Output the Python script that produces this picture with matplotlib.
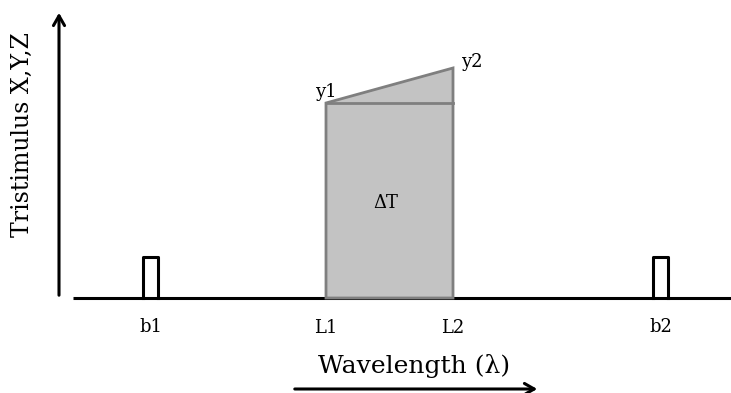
import matplotlib
matplotlib.use('Agg')
import matplotlib.pyplot as plt
from matplotlib.patches import Polygon, FancyArrowPatch

# positions along the wavelength axis (arbitrary units) and signal heights
pulse_labels = ['b1', 'b2']
pulse_centers = [150.5, 660.5]
pulse_width = 15
pulse_height = 41
band_labels = ['L1', 'L2']
band_edges = [326, 453]
band_heights = [195, 230]   # y1 at L1, y2 at L2
peak_labels = ['y1', 'y2']

plt.rcParams['font.family'] = ['DejaVu Serif']

fig = plt.figure(figsize=(7.31, 3.93), dpi=100)
ax = fig.add_axes([0, 0, 1, 1])
ax.set_xlim(0, 731)
ax.set_ylim(-95, 298)
ax.axis('off')

# baseline
ax.plot([73, 731], [0, 0], color='black', lw=2.2, solid_capstyle='butt', zorder=1)

# y axis arrow
ax.add_patch(FancyArrowPatch((59, 0), (59, 288), arrowstyle='->,head_length=7,head_width=4',
                             color='black', lw=2.2, mutation_scale=1))

# narrow pulses
for lab, c in zip(pulse_labels, pulse_centers):
    x0, x1 = c - pulse_width / 2, c + pulse_width / 2
    ax.plot([x0, x0, x1, x1], [0, pulse_height, pulse_height, 0], color='black', lw=2.2, zorder=2)
    ax.text(c, -29, lab, ha='center', va='center', fontsize=13)

# band shape: rectangle up to y1 plus triangle to y2
L1, L2 = band_edges
h1, h2 = band_heights
ax.add_patch(Polygon([(L1, 0), (L1, h1), (L2, h2), (L2, 0)], closed=True,
                     facecolor='#c3c3c3', edgecolor='#7f7f7f', lw=2, zorder=3))
ax.plot([L1, L2], [h1, h1], color='#7f7f7f', lw=2, zorder=4)

ax.text(L1, h1 + 11, peak_labels[0], ha='center', va='center', fontsize=13)
ax.text(L2 + 19, h2 + 6, peak_labels[1], ha='center', va='center', fontsize=13)
ax.text(386, 95, '\u0394T', ha='center', va='center', fontsize=13)
for lab, x in zip(band_labels, band_edges):
    ax.text(x, -30, lab, ha='center', va='center', fontsize=13)

# axis titles
ax.text(414, -68, 'Wavelength (\u03bb)', ha='center', va='center', fontsize=18)
ax.add_patch(FancyArrowPatch((292, -91), (540, -91), arrowstyle='->,head_length=7,head_width=4',
                             color='black', lw=2.2, mutation_scale=1))
ax.text(22, 163, 'Tristimulus X,Y,Z', ha='center', va='center', rotation=90, fontsize=17)

fig.savefig('out.png', dpi=100)
